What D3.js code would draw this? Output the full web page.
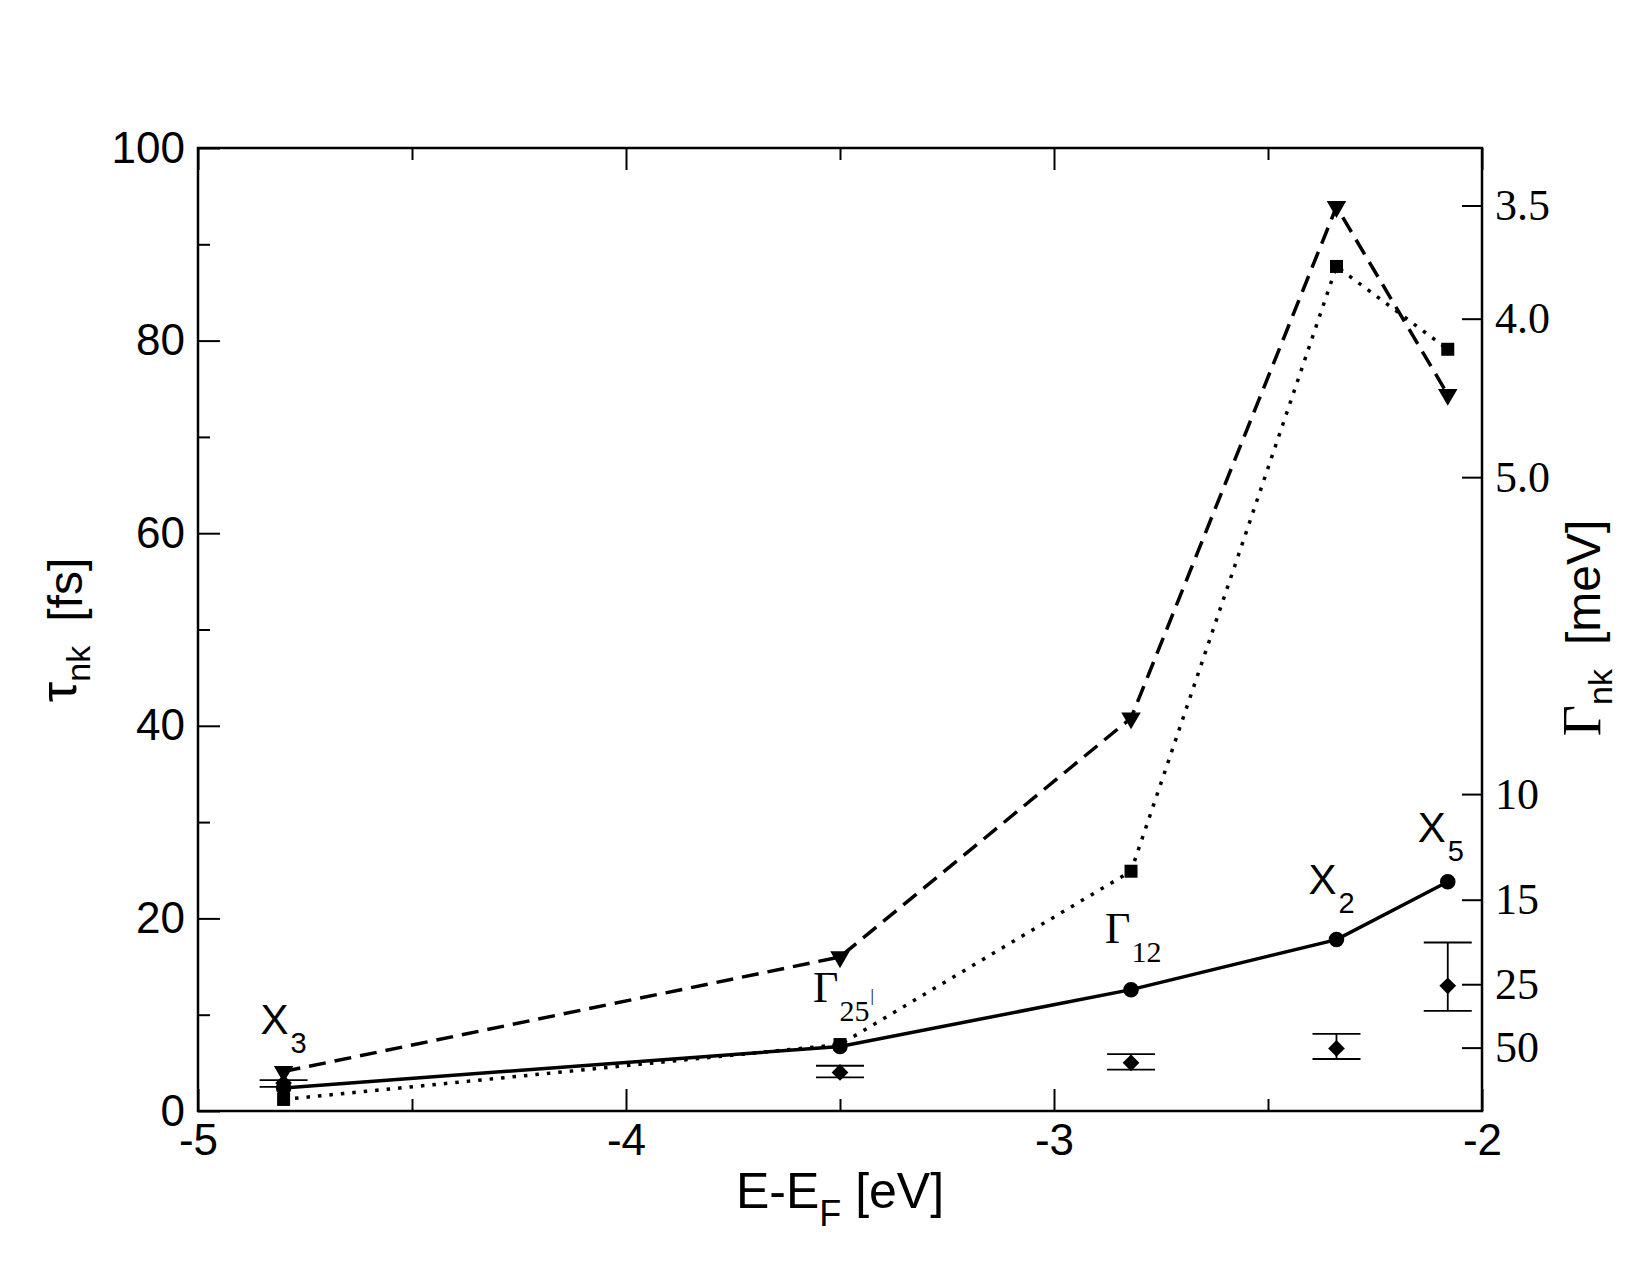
<!DOCTYPE html>
<html>
<head>
  <meta charset="utf-8">
  <script src="https://d3js.org/d3.v7.min.js"></script>
  <style>
    body { margin: 0; background: #fff; }
  </style>
</head>
<body>
<script>
"use strict";

// energies of the bands (E - E_F, eV)
var energies = [-4.80, -3.50, -2.82, -2.34, -2.08];

// lifetimes in fs
var tauSolid  = [2.4, 6.7, 12.6, 17.8, 23.8];   // solid line, circles
var tauDashed = [4.1, 16.0, 40.8, 93.9, 74.4];  // dashed line, triangles
var tauDotted = [1.2, 6.9, 24.9, 87.7, 79.1];   // dotted line, squares

// experiment with error bars (diamonds)
var tauExp  = [2.9, 4.0, 5.0, 6.5, 13.0];
var expLow  = [2.5, 3.5, 4.3, 5.4, 10.4];
var expHigh = [3.2, 4.7, 5.9, 8.0, 17.5];

// point labels
var labelMain = ["X", "\u0393", "\u0393", "X", "X"];
var labelSub  = ["3", "25", "12", "2", "5"];

// axis ticks
var xMajor = [-5, -4, -3, -2];
var xMinor = [-4.5, -3.5, -2.5];
var yMajor = [0, 20, 40, 60, 80, 100];
var yMinor = [10, 30, 50, 70, 90];
var gammaTicks = [3.5, 4.0, 5.0, 10, 15, 25, 50];
var gammaLabels = ["3.5", "4.0", "5.0", "10", "15", "25", "50"];
var hbarHalf = 329.1; // meV fs, tau = hbar / (2 Gamma)

var W = 1650, H = 1275;
var pLeft = 198, pRight = 1482, pTop = 148, pBottom = 1111;

var svg = d3.select("body").append("svg")
    .attr("width", W).attr("height", H);

var x = d3.scaleLinear().domain([-5, -2]).range([pLeft, pRight]);
var y = d3.scaleLinear().domain([0, 100]).range([pBottom, pTop]);

var sans = '"Liberation Sans", Arial, sans-serif';
var serif = '"Liberation Serif", "Times New Roman", serif';

function styleAxis(g, font) {
  g.select(".domain").remove();
  g.selectAll("line").attr("stroke", "#000").attr("stroke-width", 2);
  g.selectAll("text").attr("fill", "#000")
    .attr("font-family", font).attr("font-size", 44);
}
function plain(d) { return String(d); }

// bottom axis
svg.append("g").attr("transform", "translate(0," + pBottom + ")")
  .call(d3.axisBottom(x).tickValues(xMajor).tickSize(-22).tickPadding(13)
    .tickFormat(plain))
  .call(styleAxis, sans);
svg.append("g").attr("transform", "translate(0," + pBottom + ")")
  .call(d3.axisBottom(x).tickValues(xMinor).tickSize(-12).tickFormat(""))
  .call(styleAxis, sans);
// top axis
svg.append("g").attr("transform", "translate(0," + pTop + ")")
  .call(d3.axisTop(x).tickValues(xMajor).tickSize(-22).tickFormat(""))
  .call(styleAxis, sans);
svg.append("g").attr("transform", "translate(0," + pTop + ")")
  .call(d3.axisTop(x).tickValues(xMinor).tickSize(-12).tickFormat(""))
  .call(styleAxis, sans);
// left axis
svg.append("g").attr("transform", "translate(" + pLeft + ",0)")
  .call(d3.axisLeft(y).tickValues(yMajor).tickSize(-22).tickPadding(13)
    .tickFormat(plain))
  .call(styleAxis, sans);
svg.append("g").attr("transform", "translate(" + pLeft + ",0)")
  .call(d3.axisLeft(y).tickValues(yMinor).tickSize(-12).tickFormat(""))
  .call(styleAxis, sans);
// right axis in Gamma (meV)
svg.append("g").attr("transform", "translate(" + pRight + ",0)")
  .call(d3.axisRight(y).tickValues(gammaTicks.map(function (g) { return hbarHalf / g; }))
    .tickSize(-20).tickPadding(13)
    .tickFormat(function (d, i) { return gammaLabels[i]; }))
  .call(styleAxis, serif);

// frame
svg.append("rect")
  .attr("x", pLeft).attr("y", pTop)
  .attr("width", pRight - pLeft).attr("height", pBottom - pTop)
  .attr("fill", "none").attr("stroke", "#000").attr("stroke-width", 2.5);

function series(vals) {
  return energies.map(function (e, i) { return [e, vals[i]]; });
}
var line = d3.line().x(function (d) { return x(d[0]); }).y(function (d) { return y(d[1]); });

svg.append("path").datum(series(tauDashed))
  .attr("d", line).attr("fill", "none").attr("stroke", "#000")
  .attr("stroke-width", 3.5).attr("stroke-dasharray", "17,9");
svg.append("path").datum(series(tauDotted))
  .attr("d", line).attr("fill", "none").attr("stroke", "#000")
  .attr("stroke-width", 3.5).attr("stroke-dasharray", "3.5,8");
svg.append("path").datum(series(tauSolid))
  .attr("d", line).attr("fill", "none").attr("stroke", "#000")
  .attr("stroke-width", 3.5);

// error bars
var eb = svg.append("g").attr("stroke", "#000").attr("stroke-width", 1.8);
energies.forEach(function (e, i) {
  eb.append("line").attr("x1", x(e)).attr("x2", x(e))
    .attr("y1", y(expLow[i])).attr("y2", y(expHigh[i]));
  [expLow[i], expHigh[i]].forEach(function (v) {
    eb.append("line").attr("x1", x(e) - 24).attr("x2", x(e) + 24)
      .attr("y1", y(v)).attr("y2", y(v));
  });
});

function markers(vals, type, size, rot) {
  svg.append("g").selectAll("path").data(series(vals)).enter().append("path")
    .attr("d", d3.symbol().type(type).size(size))
    .attr("transform", function (d) {
      return "translate(" + x(d[0]) + "," + y(d[1]) + ") rotate(" + rot + ")";
    })
    .attr("fill", "#000");
}
markers(tauExp, d3.symbolSquare, 140, 45);
markers(tauDotted, d3.symbolSquare, 169, 0);
markers(tauDashed, d3.symbolTriangle, 165, 180);
markers(tauSolid, d3.symbolCircle, 190, 0);

// point labels (offsets from the solid-line points)
var labelOffsets = [[-23, -54], [-27, -44], [-26, -47], [-28, -46], [-30, -40]];
energies.forEach(function (e, i) {
  var isGamma = labelMain[i] === "\u0393";
  var t = svg.append("text")
    .attr("x", x(e) + labelOffsets[i][0])
    .attr("y", y(tauSolid[i]) + labelOffsets[i][1])
    .attr("font-family", isGamma ? serif : sans)
    .attr("font-size", isGamma ? 44 : 42);
  t.append("tspan").text(labelMain[i]);
  t.append("tspan").attr("dy", 19).attr("dx", isGamma ? 1 : 2)
    .attr("font-size", isGamma ? 30 : 29).text(labelSub[i]);
  if (i === 1) {
    t.append("tspan").attr("dy", -20).attr("dx", 1).attr("font-size", 17).text("|");
  }
});

// x label
var xl = svg.append("text").attr("x", (pLeft + pRight) / 2).attr("y", 1208)
  .attr("text-anchor", "middle").attr("font-family", sans).attr("font-size", 50);
xl.append("tspan").text("E-E");
xl.append("tspan").attr("dy", 18).attr("font-size", 36).text("F");
xl.append("tspan").attr("dy", -18).text(" [eV]");

// left y label
var yl = svg.append("text")
  .attr("transform", "translate(82,630) rotate(-90)")
  .attr("text-anchor", "middle").attr("font-family", sans).attr("font-size", 48);
yl.append("tspan").attr("dy", -6).attr("font-size", 52).text("\u03c4");
yl.append("tspan").attr("dy", 14).attr("font-size", 34).text("nk");
yl.append("tspan").attr("dy", -8).attr("dx", 24).text("[fs]");

// right y label
var yr = svg.append("text")
  .attr("transform", "translate(1600,628) rotate(-90)")
  .attr("text-anchor", "middle").attr("font-family", sans).attr("font-size", 48);
yr.append("tspan").attr("font-family", serif).attr("font-size", 54).text("\u0393");
yr.append("tspan").attr("dy", 12).attr("font-size", 34).text("nk");
yr.append("tspan").attr("dy", -12).attr("dx", 24).text("[meV]");
</script>
</body>
</html>
